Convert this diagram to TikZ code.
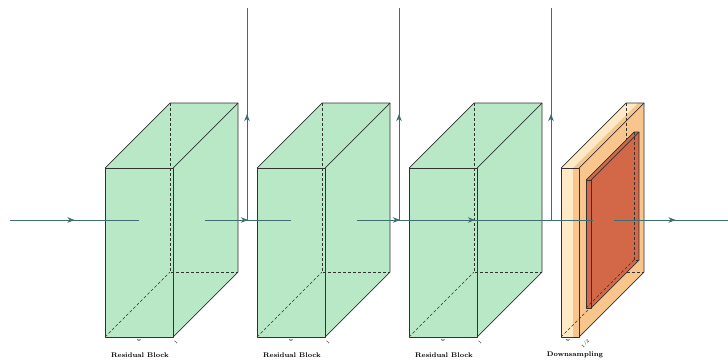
\documentclass[tikz,border=0pt]{standalone}
\usepackage{tikz}
\usetikzlibrary{arrows.meta, decorations.markings, calc}

\definecolor{blockgreen}{RGB}{184,232,198}
\definecolor{poollight}{RGB}{254,234,198}
\definecolor{poolmid}{RGB}{248,198,140}
\definecolor{convred}{RGB}{210,104,72}
\definecolor{edgegray}{RGB}{50,50,50}
\definecolor{linkteal}{RGB}{64,110,112}

\begin{document}
\begin{tikzpicture}[
    x=1pt, y=-1pt,
    edge/.style={draw=edgegray, line width=0.7pt, line join=round},
    hidden/.style={draw=edgegray, densely dashed, line width=0.45pt},
    conn/.style={draw=linkteal, line width=0.9pt},
    midarrow/.style={postaction={decorate}, decoration={markings,
        mark=at position #1 with {\arrow{Stealth[length=7pt,width=5.5pt,inset=2pt]}}}},
    midarrow/.default=0.5,
    caption/.style={font=\bfseries\fontsize{6.8}{8}\selectfont, inner sep=0pt},
    dimlabel/.style={font=\fontsize{4.5}{5}\selectfont, inner sep=0pt},
]
\useasboundingbox (0,0) rectangle (728,362);

% residual blocks
\foreach \n/\x in {b1/105, b2/257, b3/409} {
    \fill[blockgreen] (\x,168) -- (\x+65,103) -- (\x+133,103) -- (\x+133,272) -- (\x+68,337) -- (\x,337) -- cycle;
    \draw[hidden] (\x+65,103) -- (\x+65,272) -- (\x+133,272);
    \draw[hidden] (\x,337) -- (\x+65,272);
    \draw[edge] (\x,168) rectangle (\x+68,337);
    \draw[edge] (\x,168) -- (\x+65,103) -- (\x+133,103) -- (\x+68,168);
    \draw[edge] (\x+133,103) -- (\x+133,272) -- (\x+68,337);
    \coordinate (\n-west) at (\x+34,220);
    \coordinate (\n-east) at (\x+100,220);
    \node (\n-w) [dimlabel] at (\x+34,341) {w};
    \node (\n-d) [dimlabel, rotate=45] at (\x+71,342) {1};
    \node (\n-cap) [caption] at (\x+35,355) {Residual Block};
}

% downsampling
\fill[poollight] (561,168) -- (626,103) -- (638,103) -- (573,168) -- (573,337) -- (561,337) -- cycle;
\fill[poolmid] (573,168) -- (638,103) -- (644,103) -- (644,272) -- (579,337) -- (573,337) -- cycle;
\draw[hidden] (626,103) -- (626,272) -- (644,272);
\draw[hidden] (561,337) -- (626,272);
\draw[edge] (561,168) rectangle (579,337);
\draw[edge] (561,168) -- (626,103) -- (644,103) -- (579,168);
\draw[edge] (644,103) -- (644,272) -- (579,337);

\fill[convred] (586,180) -- (634,132) -- (639,132) -- (639,260) -- (591,308) -- (586,308) -- cycle;
\draw[hidden] (634,132) -- (634,260) -- (639,260);
\draw[hidden] (586,308) -- (634,260);
\draw[edge] (586,180) rectangle (591,308);
\draw[edge] (586,180) -- (634,132) -- (639,132) -- (591,180);
\draw[edge] (639,132) -- (639,260) -- (591,308);

\coordinate (ds-west) at (593,220);
\coordinate (ds-east) at (614,220);
\node (ds-w) [dimlabel] at (568,341) {w};
\node (ds-d) [dimlabel, rotate=45] at (585.5,344) {1/2};
\node (ds-cap) [caption] at (575,355) {Downsampling};

% connections
\coordinate (input) at (10,220);
\coordinate (output) at (728,220);
\coordinate (skip1) at (247,220);
\coordinate (skip2) at (399,220);
\coordinate (skip3) at (551,220);
\coordinate (top1) at (247,8);
\coordinate (top2) at (399,8);
\coordinate (top3) at (551,8);

\draw[conn, midarrow] (input) -- (b1-west);
\draw[conn, midarrow] (b1-east) -- (b2-west);
\draw[conn, midarrow] (b2-east) -- (b3-west);
\draw[conn, midarrow] (b2-east) -- (ds-west);
\draw[conn, midarrow=0.54] (ds-east) -- (output);
\draw[conn, midarrow] (skip1) -- (top1);
\draw[conn, midarrow] (skip2) -- (top2);
\draw[conn, midarrow] (skip3) -- (top3);

\end{tikzpicture}
\end{document}
